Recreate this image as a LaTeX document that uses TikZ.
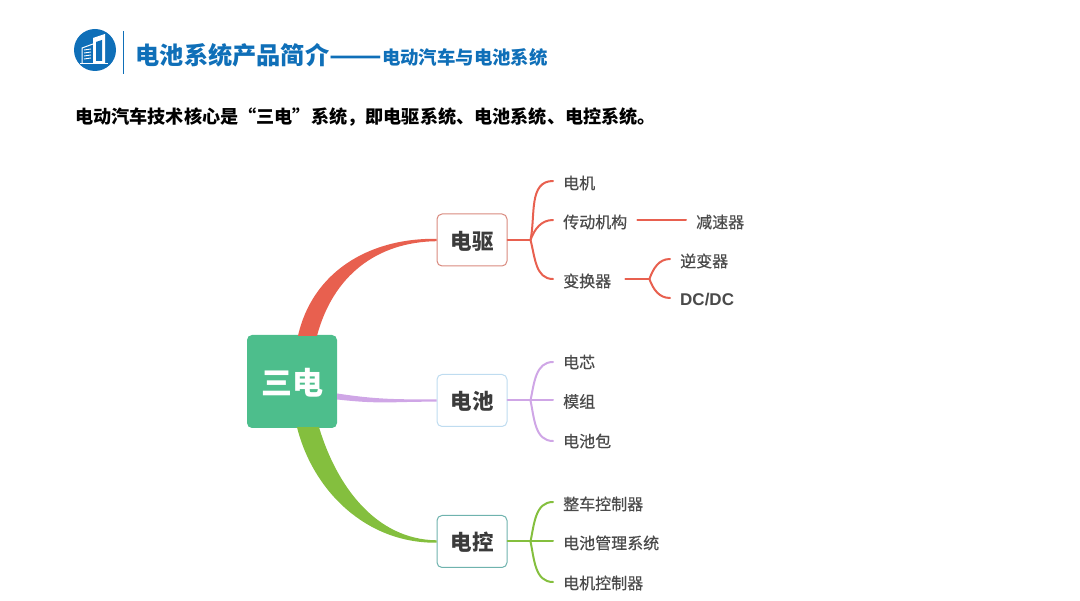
\documentclass[tikz,border=0pt]{standalone}
\usepackage{fontspec}
\setmainfont{Noto Sans CJK SC}
\newfontfamily\leaffont[FakeBold=0.5]{Noto Sans CJK SC}
\newfontfamily\latinfont{Liberation Sans}
\usepackage{tikz}
\usetikzlibrary{
  calc,
  positioning
}
\definecolor{titleBlue}{HTML}{0F6FB8}
\definecolor{inkGray}{HTML}{4A4A4A}
\definecolor{rootGreen}{HTML}{4DBE8C}
\definecolor{armRed}{HTML}{E8604F}
\definecolor{packPurple}{HTML}{CFA6E6}
\definecolor{ctrlGreen}{HTML}{84BF3E}
\definecolor{driveEdge}{HTML}{D98A7E}
\definecolor{packEdge}{HTML}{BFDCF0}
\definecolor{ctrlEdge}{HTML}{6FB3AE}
\tikzset{
  rootbox/.style={fill=rootGreen, rounded corners=5pt, minimum width=90pt, minimum height=93pt,
    text=white, font=\fontsize{31}{31}\selectfont\bfseries, inner sep=0pt},
  topicbox/.style={fill=white, rounded corners=5pt, line width=1pt, minimum width=70pt, minimum height=52pt,
    text=inkGray!80!black, font=\fontsize{21.5}{21.5}\selectfont\bfseries, inner sep=0pt},
  leaf/.style={anchor=west, text=inkGray, font=\fontsize{16}{16}\leaffont\selectfont, inner xsep=10pt, inner ysep=2pt},
  branch/.style={line width=2pt, line cap=round}
}
\begin{document}
\begin{tikzpicture}[x=1pt, y=-1pt]
  \useasboundingbox (0,0) rectangle (1080,601);

  %% --- Header logo and rule ---
  \fill[titleBlue] (95,50) circle [radius=21];
  \fill[white] (93,63) -- (93,38) -- (105,34) -- (105,63) -- cycle;
  \fill[titleBlue] (96,61) -- (96,42) -- (102,40) -- (102,61) -- cycle;
  \draw[white, line width=1pt] (82,63) -- (82,48) -- (93,44);
  \foreach \y in {50,53,56,59}
    \draw[white, line width=0.9pt] (84,\y) -- (91,\y-1);
  \draw[white, line width=1.2pt] (80,63.5) -- (108,63.5);
  \draw[titleBlue, line width=1pt] (123,31) -- (123,74);

  %% --- Header text ---
  \node[anchor=west, inner sep=0pt, text=titleBlue, font=\bfseries] (title) at (135.5,55)
    {{\fontsize{24.2}{24.2}\selectfont 电池系统产品简介\scalebox{1.27}[1]{——}}{\fontsize{18.4}{18.4}\selectfont 电动汽车与电池系统}};
  \node[anchor=west, inner sep=0pt, text=black, font=\fontsize{18.15}{18.15}\selectfont\bfseries] (lead) at (75,117)
    {电动汽车技术核心是“三电”系统，即电驱系统、电池系统、电控系统。};

  %% --- Root and three topics ---
  \node[rootbox, text depth=-12pt] (root) at (292,381.5) {三电};
  \node[topicbox, draw=driveEdge, text depth=-5pt] (drive) at (472,240) {电驱};
  \node[topicbox, draw=packEdge, text depth=-5pt] (pack) at (472,400.5) {电池};
  \node[topicbox, draw=ctrlEdge, text depth=-5pt] (ctrl) at (472,541.5) {电控};

  %% --- Tapered arms from the root ---
  \fill[armRed] ($(root.north)+(6,1)$) .. controls +(14,-62) and ($(drive.west)+(-70,-2)$) .. ($(drive.west)+(0,-1.2)$)
    -- ($(drive.west)+(0,1.2)$) .. controls ($(drive.west)+(-60,2)$) and +(16,-60) .. ($(root.north)+(25,1)$) -- cycle;
  \fill[packPurple] ($(root.east)+(0,12)$) .. controls +(40,6) and ($(pack.west)+(-40,-1)$) .. ($(pack.west)+(0,-1.2)$)
    -- ($(pack.west)+(0,1.2)$) .. controls ($(pack.west)+(-45,1)$) and +(45,5) .. ($(root.east)+(0,18)$) -- cycle;
  \fill[ctrlGreen] ($(root.south)+(5,-1)$) .. controls +(16,64) and ($(ctrl.west)+(-70,2)$) .. ($(ctrl.west)+(0,1.2)$)
    -- ($(ctrl.west)+(0,-1.2)$) .. controls ($(ctrl.west)+(-60,-2)$) and +(18,60) .. ($(root.south)+(27,-1)$) -- cycle;

  %% --- Leaves of the first topic ---
  \node[leaf] (motor) at (553,183) {电机};
  \node[leaf] (gear) at (553,222) {传动机构};
  \node[leaf] (reducer) at (686,222) {减速器};
  \node[leaf] (conv) at (553,281) {变换器};
  \node[leaf] (inv) at (670,261) {逆变器};
  \node[leaf] (dcdc) at (670,300) {\latinfont\fontsize{17}{17}\selectfont\bfseries DC/DC};

  \coordinate[right=23pt of drive.east] (driveFork);
  \draw[branch, armRed] (drive.east) -- (driveFork);
  \draw[branch, armRed] (driveFork) to[out=78, in=180] ($(motor.west)+(0,-2)$);
  \draw[branch, armRed] (driveFork) to[out=70, in=180] ($(gear.west)+(0,-2)$);
  \draw[branch, armRed] (driveFork) to[out=285, in=180] ($(conv.west)+(0,-2)$);
  \draw[branch, armRed] ($(gear.east)+(0,-2)$) -- ($(reducer.west)+(0,-2)$);
  \coordinate (convFork) at ($(conv.east)+(28,-2)$);
  \draw[branch, armRed] ($(conv.east)+(4,-2)$) -- (convFork);
  \draw[branch, armRed] (convFork) to[out=70, in=180] ($(inv.west)+(0,-2)$);
  \draw[branch, armRed] (convFork) to[out=290, in=180] ($(dcdc.west)+(0,-2)$);

  %% --- Leaves of the second topic ---
  \node[leaf] (cell) at (553,362) {电芯};
  \node[leaf] (module) at (553,401.5) {模组};
  \node[leaf] (packleaf) at (553,441) {电池包};
  \coordinate[right=23pt of pack.east] (packFork);
  \draw[branch, packPurple] (pack.east) -- (packFork);
  \draw[branch, packPurple] (packFork) to[out=78, in=180] (cell.west);
  \draw[branch, packPurple] (packFork) -- ($(module.west)+(0,-1)$);
  \draw[branch, packPurple] (packFork) to[out=282, in=180] (packleaf.west);

  %% --- Leaves of the third topic ---
  \node[leaf] (vcu) at (553,504) {整车控制器};
  \node[leaf] (bms) at (553,543) {电池管理系统};
  \node[leaf] (mcu) at (553,583) {电机控制器};
  \coordinate[right=23pt of ctrl.east] (ctrlFork);
  \draw[branch, ctrlGreen] (ctrl.east) -- (ctrlFork);
  \draw[branch, ctrlGreen] (ctrlFork) to[out=78, in=180] ($(vcu.west)+(0,-2)$);
  \draw[branch, ctrlGreen] (ctrlFork) -- ($(bms.west)+(0,-1.5)$);
  \draw[branch, ctrlGreen] (ctrlFork) to[out=282, in=180] ($(mcu.west)+(0,-1)$);
\end{tikzpicture}
\end{document}
